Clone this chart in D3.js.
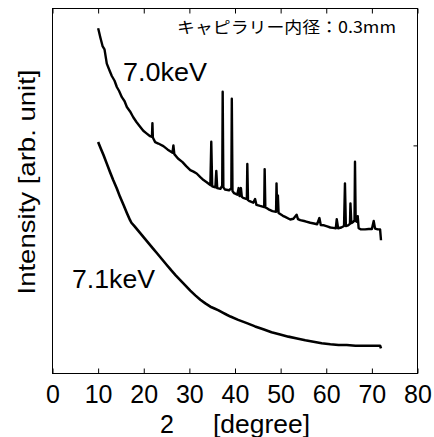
<!DOCTYPE html>
<html>
<head>
<meta charset="utf-8">
<script src="https://cdnjs.cloudflare.com/ajax/libs/d3/7.8.5/d3.min.js"></script>
<style>
	body { margin: 0; background: #fff; }
	text { font-family: "Liberation Sans", Arial, sans-serif; fill: #000; }
</style>
</head>
<body>
<script>
// tick labels along the bottom
const xTicks = [0, 10, 20, 30, 40, 50, 60, 70, 80];
// the single tick on the right edge (arbitrary units)
const yTicks = [62.5];

// 7.0keV scan: [2theta, intensity]
const scan70 = [
	[10.0, 94.6], [10.1, 94.1], [10.5, 92.0], [11.0, 89.6], [11.4, 88.8], [11.9, 84.9], [12.5, 83.0],
	[13.0, 81.5], [13.6, 80.2], [14.1, 78.5], [14.6, 77.4], [15.2, 75.7], [15.8, 74.6], [16.3, 73.0],
	[17.0, 71.8], [17.7, 70.2], [18.4, 68.9], [19.2, 67.6], [19.9, 66.5], [20.6, 65.8], [21.4, 65.0],
	[21.8, 64.8], [21.9, 68.6], [22.0, 64.6], [22.1, 64.4], [22.5, 63.4], [23.2, 63.0], [24.3, 62.3],
	[25.2, 61.4], [26.3, 60.5], [26.5, 62.5], [26.7, 60.1], [27.5, 58.9], [28.5, 57.9], [29.3, 56.8],
	[30.2, 55.7], [30.9, 55.3], [31.6, 54.8], [32.4, 53.8], [33.1, 53.0], [33.8, 52.4], [34.6, 51.6],
	[34.8, 63.5], [35.0, 51.3], [35.7, 51.0], [35.9, 55.5], [36.1, 50.8], [36.8, 50.6], [37.2, 51.5],
	[37.3, 77.2], [37.45, 51.0], [37.8, 50.4], [38.7, 50.2], [39.2, 50.8], [39.3, 75.3], [39.45, 50.0],
	[39.8, 49.4], [40.5, 49.0], [40.8, 50.8], [41.0, 48.6], [41.3, 50.8], [41.5, 48.4], [41.8, 48.1],
	[42.6, 47.8], [42.7, 57.4], [42.85, 47.5], [43.2, 47.2], [44.0, 46.8], [44.4, 47.8], [44.7, 46.2],
	[45.5, 45.9], [46.4, 45.6], [46.5, 56.0], [46.65, 45.5], [47.0, 45.3], [47.6, 44.8], [48.2, 44.5],
	[49.0, 44.3], [49.1, 52.1], [49.25, 44.5], [49.4, 48.8], [49.55, 44.0], [49.9, 43.7], [50.5, 43.2],
	[51.0, 42.9], [52.1, 42.2], [52.8, 42.4], [53.5, 43.5], [53.8, 42.3], [54.3, 42.0], [55.4, 41.7],
	[56.5, 41.3], [57.3, 41.1], [58.0, 40.9], [58.5, 42.6], [58.8, 40.7], [59.5, 40.6], [60.2, 40.3],
	[60.9, 40.0], [61.5, 39.9], [62.1, 39.8], [62.3, 42.3], [62.6, 39.8], [63.3, 40.0], [63.9, 40.4],
	[64.1, 52.1], [64.3, 40.4], [64.8, 40.6], [65.2, 41.0], [65.3, 46.6], [65.5, 41.2], [65.9, 41.5],
	[66.2, 42.0], [66.3, 58.0], [66.45, 41.8], [66.7, 41.6], [66.9, 43.1], [67.1, 39.8], [67.6, 39.5],
	[68.5, 39.5], [69.3, 39.6], [70.0, 39.6], [70.4, 41.8], [70.7, 39.7], [71.3, 39.5], [71.8, 39.5],
	[72.0, 36.5]
];

// 7.1keV scan: [2theta, intensity]
const scan71 = [
	[10.0, 63.4], [10.6, 61.6], [11.2, 59.8], [11.9, 57.5], [12.6, 55.2], [13.3, 53.0], [14.1, 50.7],
	[14.8, 48.4], [15.6, 46.1], [16.3, 44.0], [17.0, 42.0], [17.3, 41.3], [18.0, 40.3], [19.0, 38.8],
	[20.0, 37.3], [21.0, 35.8], [22.0, 34.3], [23.0, 32.8], [24.0, 31.3], [25.0, 29.8], [26.0, 28.3],
	[27.0, 26.9], [28.0, 25.6], [29.0, 24.3], [30.2, 22.7], [31.3, 21.4], [32.4, 20.2], [33.5, 19.2],
	[34.6, 18.3], [35.5, 17.8], [36.4, 17.3], [37.3, 16.7], [38.2, 16.1], [39.0, 15.6], [40.7, 14.7],
	[42.6, 13.8], [44.4, 12.9], [46.2, 12.1], [48.0, 11.3], [49.9, 10.7], [51.7, 10.1], [53.6, 9.6],
	[55.4, 9.1], [57.2, 8.7], [59.0, 8.3], [60.9, 8.0], [62.7, 7.8], [64.5, 7.8], [66.4, 7.6],
	[68.2, 7.6], [70.0, 7.6], [71.8, 7.6], [72.0, 6.9]
];

// size of the page and the plot frame
const w = 434;
const h = 437;
const padL = 52.5;
const padT = 8.5;
const pw = 365;
const ph = 365;

const xScale = d3.scaleLinear().domain([0, 80]).range([padL, padL + pw]);
const yScale = d3.scaleLinear().domain([0, 100]).range([padT + ph, padT]);

const svg = d3.select("body").append("svg").attr("width", w).attr("height", h);

// bottom axis, ticks pointing inwards
const xAxis = d3.axisBottom(xScale).tickValues(xTicks).tickSize(-5).tickPadding(12).tickFormat((d) => d);
const gx = svg.append("g").attr("transform", "translate(0," + (padT + ph) + ")").call(xAxis);
gx.select(".domain").remove();
gx.selectAll("line").attr("stroke", "#000");
gx.selectAll("text").style("font-size", "25px").attr("dy", "0.71em");

// top axis, only the marks
const gxt = svg.append("g").attr("transform", "translate(0," + padT + ")")
	.call(d3.axisTop(xScale).tickValues(xTicks).tickSize(-5).tickFormat(""));
gxt.select(".domain").remove();

// right axis, one mark
const gyr = svg.append("g").attr("transform", "translate(" + (padL + pw) + ",0)")
	.call(d3.axisRight(yScale).tickValues(yTicks).tickSize(-4).tickFormat(""));
gyr.select(".domain").remove();

// frame
svg.append("rect")
	.attr("x", padL).attr("y", padT)
	.attr("width", pw).attr("height", ph)
	.attr("fill", "none").attr("stroke", "#000").attr("stroke-width", 1);

// the two scans
const line = d3.line().x((d) => xScale(d[0])).y((d) => yScale(d[1]));

svg.append("path").datum(scan70).attr("d", line)
	.attr("fill", "none").attr("stroke", "#000").attr("stroke-width", 2.4).attr("stroke-linejoin", "round");
svg.append("path").datum(scan71).attr("d", line)
	.attr("fill", "none").attr("stroke", "#000").attr("stroke-width", 2.6).attr("stroke-linejoin", "round");

// labels on the curves
svg.append("text").text("7.0keV").attr("x", 123).attr("y", 81)
	.style("font-size", "25px").attr("textLength", 84).attr("lengthAdjust", "spacingAndGlyphs");
svg.append("text").text("7.1keV").attr("x", 72).attr("y", 288)
	.style("font-size", "25px").attr("textLength", 83).attr("lengthAdjust", "spacingAndGlyphs");

// note in the top right corner
svg.append("text").text("キャピラリー内径：0.3mm").attr("x", 177).attr("y", 33)
	.style("font-family", "'Noto Sans CJK JP', sans-serif").style("font-size", "16px")
	.attr("textLength", 219).attr("lengthAdjust", "spacingAndGlyphs");

// axis titles (the theta glyph is missing in the original)
svg.append("text").text("2").attr("x", 167).attr("y", 433)
	.attr("text-anchor", "middle").style("font-size", "25px");
svg.append("text").text("[degree]").attr("x", 213).attr("y", 433)
	.style("font-size", "25px").attr("textLength", 97).attr("lengthAdjust", "spacingAndGlyphs");

svg.append("text").text("Intensity [arb. unit]")
	.attr("transform", "translate(35,182) rotate(-90)")
	.attr("text-anchor", "middle").style("font-size", "24px")
	.attr("textLength", 225).attr("lengthAdjust", "spacingAndGlyphs");
</script>
</body>
</html>
